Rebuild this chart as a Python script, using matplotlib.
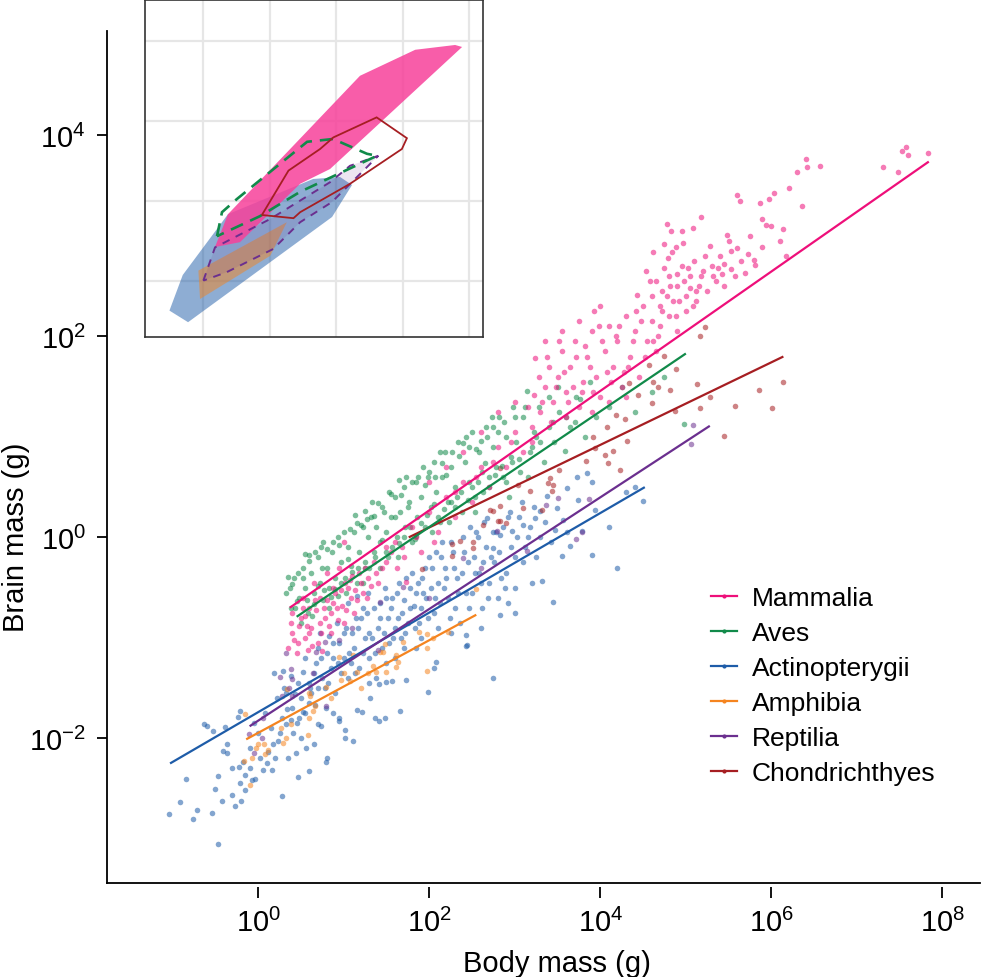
import numpy as np
import matplotlib
matplotlib.use("Agg")
import matplotlib.pyplot as plt
from matplotlib.lines import Line2D

plt.rcParams['font.family'] = ['Liberation Sans', 'DejaVu Sans']
plt.rcParams['mathtext.fontset'] = 'custom'
plt.rcParams['mathtext.rm'] = 'Liberation Sans'
plt.rcParams['mathtext.it'] = 'Liberation Sans:italic'

# ---- data (log10 grams) ----
groups = ['Mammalia', 'Aves', 'Actinopterygii', 'Amphibia', 'Reptilia', 'Chondrichthyes']
colors = ['#ee0f7a', '#118a4a', '#1e5ca8', '#f5841f', '#6b2f8f', '#a61e22']

mam_pts = [
    (7.57, 3.89), (7.53, 3.85), (7.6, 3.81), (7.83, 3.83), (7.31, 3.69), (7.48, 3.64), (6.41, 3.77),
    (6.42, 3.69), (6.57, 3.70), (6.30, 3.64), (6.36, 3.30), (6.2, 3.48), (6.03, 3.43), (5.97, 3.37),
    (5.87, 3.33), (5.6, 3.41), (5.63, 3.35), (5.89, 3.17), (5.94, 3.11), (6.13, 3.07), (6.17, 2.80),
    (5.89, 2.89), (5.48, 3.01), (5.18, 3.19), (5.08, 3.08), (4.95, 3.05), (4.83, 3.05), (4.78, 3.12),
    (4.97, 2.93), (4.88, 2.89), (4.74, 2.92), (4.62, 2.84), (4.84, 2.84), (4.79, 2.78), (5.53, 2.85),
    (5.6, 2.88), (5.73, 2.82), (5.8, 2.76), (5.81, 2.71), (5.69, 2.63), (5.53, 2.67), (4.53, 2.65),
    (4.43, 2.41), (3.93, 2.25), (3.24, 1.79),
    (4.65, 2.55), (4.72, 2.45), (4.8, 2.6), (4.9, 2.5), (4.95, 2.7), (5.0, 2.4), (5.05, 2.6), (5.1, 2.75),
    (5.15, 2.5), (5.2, 2.65), (5.25, 2.45), (5.3, 2.7), (5.35, 2.55), (5.4, 2.8), (5.45, 2.5), (4.7, 2.3),
    (4.85, 2.35), (5.0, 2.25), (5.12, 2.35), (4.6, 2.4), (4.9, 2.62), (5.22, 2.8), (5.38, 2.68),
    (4.75, 2.68), (5.05, 2.48),
    (3.3, 1.25), (3.35, 1.5), (3.4, 1.7), (3.45, 1.35), (3.5, 1.6), (3.55, 1.85), (3.6, 1.45), (3.65, 1.7),
    (3.7, 1.95), (3.75, 1.3), (3.8, 1.55), (3.85, 1.8), (3.9, 2.05), (3.95, 1.6), (4.0, 1.4), (4.05, 1.85),
    (4.1, 2.1), (4.15, 1.7), (4.2, 1.95), (4.25, 1.5), (4.3, 2.2), (4.35, 1.8), (4.4, 2.05), (4.45, 1.6),
    (4.5, 2.3), (4.55, 1.95), (4.6, 2.15), (4.65, 1.85), (4.7, 2.1), (4.8, 2.2), (4.9, 2.05), (3.2, 1.1),
    (3.6, 1.2), (3.9, 1.25), (4.1, 1.35), (4.3, 1.4), (3.35, 1.95), (3.55, 2.05), (3.75, 2.15), (4.0, 2.3),
    (1.6, -0.05), (1.8, 0.1), (2.0, 0.25), (2.2, 0.4), (2.4, 0.55), (2.6, 0.7), (2.8, 0.9), (3.0, 1.05),
    (1.7, -0.2), (1.9, -0.15), (2.1, 0.05), (2.3, 0.2), (2.5, 0.35), (2.7, 0.5), (2.9, 0.7), (3.1, 0.85),
    (2.6, 1.05), (2.8, 1.25), (3.0, 1.35), (2.4, 0.85), (2.2, 0.7), (2.0, 0.55), (1.5, -0.25), (3.2, 0.95),
    (0.35, -1.1), (0.4, -0.95), (0.45, -1.15), (0.5, -0.8), (0.55, -1.0), (0.6, -0.7), (0.62, -0.9),
    (0.7, -1.05), (0.72, -0.6), (0.78, -0.8), (0.85, -0.95), (0.88, -0.5), (0.92, -0.7), (1.0, -0.85),
    (1.02, -0.45), (1.08, -0.6), (1.12, -0.75), (1.18, -0.35), (1.22, -0.55), (1.28, -0.4), (1.35, -0.25),
    (1.4, -0.45), (1.45, -0.3), (0.52, -0.6), (0.65, -0.45), (0.8, -0.35), (0.95, -0.3), (0.4, -0.75),
    (0.58, -1.12), (0.75, -1.13), (1.0, -0.05), (1.73, -0.44),
    (0.42, -1.02), (0.48, -0.88), (0.55, -0.78), (0.6, -0.95), (0.68, -0.72), (0.72, -0.85), (0.8, -0.62),
    (0.85, -0.75), (0.9, -0.55), (0.98, -0.68), (1.05, -0.5), (1.1, -0.38), (1.15, -0.62), (1.25, -0.3),
    (1.32, -0.48), (1.5, -0.1), (1.62, -0.3), (1.85, 0.0), (2.05, -0.05), (2.3, 0.45), (2.55, 0.6),
    (2.75, 0.75), (2.95, 0.95), (3.15, 1.3), (3.28, 1.6), (3.42, 1.15), (3.58, 1.65), (3.68, 1.5),
    (3.82, 1.9), (3.92, 1.45), (4.02, 1.95), (4.12, 1.55), (4.22, 2.1), (4.32, 1.7), (4.42, 2.25),
    (4.52, 1.8), (4.58, 2.55), (4.68, 2.0), (4.78, 2.4), (4.88, 2.2), (4.98, 2.55), (5.08, 2.3),
    (5.18, 2.6), (5.28, 2.9), (5.42, 2.62), (5.5, 2.95), (5.65, 2.75), (5.75, 3.0), (6.0, 3.1), (6.1, 2.95),
    (0.38, -0.85), (0.47, -1.05), (0.53, -0.7), (0.57, -0.88), (0.63, -1.08), (0.67, -0.62), (0.73, -0.95),
    (0.77, -0.7), (0.83, -0.88), (0.87, -0.65), (0.93, -0.82), (0.97, -0.52), (1.03, -0.72), (1.07, -0.42),
    (1.13, -0.52), (1.2, -0.45), (1.27, -0.6), (1.38, -0.35), (1.55, -0.15), (1.68, -0.1), (3.22, 1.42),
    (3.32, 1.35), (3.38, 1.8), (3.48, 1.5), (3.52, 1.95), (3.62, 1.35), (3.72, 1.8), (3.78, 1.45),
    (3.88, 1.7), (3.98, 2.1), (4.08, 1.65), (4.18, 2.0), (4.28, 1.65), (4.38, 1.95), (4.48, 2.15),
    (4.62, 1.95), (4.72, 2.25), (4.82, 2.5), (4.92, 2.35), (5.02, 2.68), (5.12, 2.45), (5.32, 2.6),
    (5.45, 2.72), (5.58, 2.6),
]

aves_pts = [
    (0.32, -0.55), (0.38, -0.7), (0.42, -0.4), (0.48, -0.6), (0.52, -0.3), (0.55, -0.5), (0.58, -0.75),
    (0.62, -0.35), (0.65, -0.55), (0.7, -0.2), (0.72, -0.45), (0.76, -0.62), (0.8, -0.3), (0.83, -0.5),
    (0.86, -0.15), (0.9, -0.4), (0.93, -0.58), (0.97, -0.25), (0.59, -0.18), (0.76, -0.05),
    (1.02, -0.4), (1.05, -0.1), (1.08, -0.28), (1.12, 0.05), (1.15, -0.45), (1.18, -0.15), (1.22, 0.1),
    (1.25, -0.3), (1.28, 0.0), (1.32, 0.2), (1.35, -0.15), (1.38, 0.1), (1.42, -0.05), (1.45, 0.3),
    (1.5, 0.05), (1.52, -0.2), (1.55, 0.2), (1.6, 0.4), (1.62, 0.0), (1.66, 0.25), (1.7, 0.5), (1.72, 0.1),
    (1.76, 0.35), (1.8, -0.05), (1.84, 0.55), (1.86, 0.2), (1.9, 0.4), (1.95, 0.1), (1.98, 0.6),
    (1.65, 0.57), (1.25, 0.26),
    (2.02, 0.3), (2.05, 0.75), (2.08, 0.45), (2.12, 0.15), (2.15, 0.6), (2.18, 0.85), (2.22, 0.35),
    (2.26, 0.7), (2.3, 0.5), (2.34, 0.95), (2.38, 0.25), (2.42, 0.75), (2.46, 0.55), (2.5, 1.05),
    (2.54, 0.4), (2.58, 0.85), (2.62, 0.65), (2.66, 1.1), (2.7, 0.5), (2.74, 0.9), (2.78, 0.7), (2.82, 1.2),
    (2.86, 0.6), (2.9, 1.0), (2.95, 0.8), (2.98, 1.3),
    (3.02, 0.95), (3.06, 0.65), (3.1, 1.2), (3.14, 1.46), (3.18, 0.85), (3.22, 1.05), (3.28, 1.3),
    (3.34, 0.75), (3.4, 1.1), (3.46, 0.95), (3.52, 1.25), (3.59, 0.86), (3.65, 1.1), (3.72, 1.4),
    (3.76, 1.38), (3.82, 1.0), (3.88, 1.55), (3.95, 1.2),
    (4.1, 1.3), (4.25, 1.5), (4.4, 1.25), (4.6, 1.45), (4.98, 1.13), (4.75, 1.6),
    (0.35, -0.39), (0.45, -0.63), (0.55, -0.17), (0.65, -0.66), (0.75, -0.30), (0.85, -0.59), (0.95, -0.08),
    (1.05, -0.22), (1.15, 0.14), (1.25, -0.25), (1.35, 0.21), (1.45, -0.03), (1.55, 0.43), (1.65, -0.06),
    (1.75, 0.30), (1.85, 0.01), (1.95, 0.52), (2.05, 0.33), (2.15, 0.74), (2.25, 0.35), (2.35, 0.81),
    (2.45, 0.37), (2.55, 0.88), (2.65, 0.74), (2.75, 1.10), (2.85, 0.71), (3.05, 0.78), (3.25, 1.0),
    (3.45, 1.15), (0.4, -0.46), (0.5, -0.85), (0.6, -0.24), (0.7, -0.48), (0.8, -0.12), (0.9, -0.51),
    (1.0, 0.05), (1.1, -0.34), (1.2, 0.12), (1.3, -0.3), (1.4, 0.34), (1.5, -0.15), (1.6, 0.2), (1.7, 0.0),
    (1.8, 0.55), (1.9, 0.14), (2.0, 0.65), (2.1, 0.2), (2.2, 0.62), (2.3, 0.3), (2.4, 0.94), (2.5, 0.5),
    (2.6, 0.96), (2.7, 0.6), (2.8, 1.05), (2.9, 0.55), (3.0, 1.2), (3.2, 0.9), (3.4, 1.4), (3.6, 1.2),
    (0.37, -0.5), (0.47, -0.35), (0.57, -0.62), (0.67, -0.15), (0.77, -0.52), (0.87, -0.05), (0.97, -0.45),
    (1.07, 0.08), (1.17, -0.3), (1.27, 0.18), (1.37, -0.2), (1.47, 0.25), (1.57, -0.1), (1.67, 0.42),
    (1.77, 0.1), (1.87, 0.6), (1.97, 0.22), (2.07, 0.6), (2.17, 0.28), (2.27, 0.85), (2.37, 0.45),
    (2.47, 0.9), (2.57, 0.55), (2.67, 1.0), (2.77, 0.62), (2.87, 1.15), (2.97, 0.75), (3.12, 1.3),
    (3.3, 0.95), (3.5, 1.5), (3.7, 1.15),
    (0.43, -0.7), (0.53, -0.4), (0.63, -0.78), (0.73, -0.1), (0.83, -0.7), (0.93, 0.0), (1.03, -0.55),
    (1.13, 0.22), (1.23, -0.45), (1.33, 0.35), (1.43, -0.3), (1.53, 0.45), (1.63, -0.2), (1.73, 0.6),
    (1.83, -0.02), (1.93, 0.7), (2.03, 0.05), (2.13, 0.85), (2.23, 0.15), (2.33, 0.4), (2.43, 1.0),
    (2.53, 0.25), (2.63, 0.45), (2.73, 1.2), (2.93, 0.4), (3.15, 0.6),
]

act_pts = [
    (-1.04, -2.75), (-0.91, -2.63), (-0.84, -2.40), (-0.76, -2.80), (-0.72, -2.71), (-0.54, -2.74),
    (-0.47, -3.05), (-0.51, -2.5), (-0.47, -2.37), (-0.42, -2.62), (-0.3, -2.56), (-0.27, -2.67),
    (-0.2, -2.62), (-0.21, -2.44), (-0.15, -2.51), (-0.15, -2.36), (-0.22, -2.29), (-0.18, -2.24),
    (-0.36, -2.06), (-0.41, -2.13), (-0.36, -2.15), (-0.63, -1.86), (-0.6, -1.88), (-0.53, -1.93),
    (-0.39, -1.89), (-0.24, -1.79), (-0.21, -1.73), (-0.07, -2.41), (-0.04, -2.4), (0.06, -2.32),
    (0.16, -2.32), (0.28, -2.57), (0.47, -2.38), (0.59, -2.33), (0.44, -2.15), (0.56, -2.1), (0.65, -2.06),
    (0.79, -2.24), (0.81, -2.2), (0.74, -1.88), (0.7, -1.86), (1.11, -2.03), (1.01, -2.0), (1.02, -1.92),
    (0.95, -1.8), (1.15, -1.72), (1.31, -1.6), (1.37, -1.8), (1.41, -1.83), (1.48, -1.8), (1.66, -1.73),
    (1.99, -1.54), (2.06, -1.3), (2.08, -1.24), (2.43, -1.08), (2.43, -0.97), (1.73, -1.42), (1.57, -1.43),
    (1.49, -1.44), (1.41, -1.46), (1.21, -1.74), (0.94, -1.83), (0.88, -1.75), (0.79, -1.7), (0.67, -1.67),
    (0.6, -1.65), (0.52, -1.74), (0.48, -1.8), (0.38, -1.82), (0.32, -1.86), (0.23, -2.03), (0.17, -2.06),
    (0.12, -2.14), (0.41, -1.95), (0.18, -1.35), (0.29, -1.33), (0.38, -1.38), (0.52, -1.34), (0.61, -1.5),
    (0.43, -1.56), (0.34, -1.71),
    (3.85, 0.64), (3.73, 0.6), (3.9, 0.55), (3.61, 0.49), (3.74, 0.37), (3.29, 0.26), (3.24, 0.19),
    (3.1, 0.12), (2.97, 0.06), (2.83, 0.02), (2.68, 0.19), (2.75, -0.11), (3.56, 0.17), (3.49, 0.29),
    (3.38, 0.41), (3.94, 0.27), (3.61, 0.05), (3.47, 0.07), (3.79, 0.06), (3.65, -0.09), (3.55, -0.19),
    (3.9, -0.18), (4.5, 0.36), (3.45, -0.64), (3.32, -0.43), (2.83, -0.77), (2.92, -0.65), (2.44, -1.07),
    (2.75, -1.4), (4.4, 0.5), (4.3, 0.45), (4.2, -0.3), (4.1, 0.1),
    (0.6, -1.45), (0.68, -1.25), (0.75, -1.4), (0.8, -1.15), (0.85, -1.3), (0.9, -1.55), (0.95, -1.05),
    (1.0, -1.2), (1.05, -1.4), (1.1, -0.95), (1.12, -1.1), (1.18, -1.3), (1.2, -0.8), (1.25, -1.0),
    (1.3, -1.2), (1.35, -0.7), (1.4, -0.9), (1.45, -1.1), (1.5, -0.6), (1.52, -0.8), (1.58, -1.0),
    (1.62, -0.55), (1.68, -0.75), (1.72, -0.95), (1.78, -0.5), (1.82, -0.68), (1.88, -0.85), (1.05, -0.65),
    (1.15, -0.58), (1.28, -0.55), (0.92, -0.85), (0.72, -0.95), (1.38, -1.4), (1.6, -1.2), (1.85, -1.1),
    (1.92, -0.4), (1.96, -0.6), (2.0, -0.2), (2.05, -0.75), (2.1, -0.45), (2.15, -0.05), (2.18, -0.3),
    (2.22, -0.6), (2.28, -0.15), (2.32, -0.4), (2.36, -0.85), (2.4, 0.0), (2.45, -0.25), (2.5, -0.55),
    (2.55, 0.05), (2.58, -0.35), (2.62, -0.7), (2.66, -0.1), (2.7, -0.45), (2.76, -0.25), (2.8, -0.6),
    (2.86, 0.1), (2.9, -0.35), (2.95, -0.1), (3.0, -0.5), (3.05, 0.2), (3.1, -0.25), (3.15, 0.0),
    (3.2, -0.45), (2.25, -0.95),
    (0.55, -1.2), (0.62, -1.55), (0.7, -1.1), (0.78, -1.5), (0.83, -0.98), (0.88, -1.2), (0.97, -1.35),
    (1.03, -0.9), (1.08, -1.25), (1.14, -0.8), (1.22, -1.15), (1.27, -0.75), (1.33, -1.0), (1.42, -0.65),
    (1.47, -0.95), (1.55, -0.7), (1.6, -0.9), (1.65, -0.45), (1.7, -0.62), (1.75, -0.85), (1.8, -0.35),
    (1.85, -0.55), (1.9, -0.7), (1.95, -0.3), (2.02, -0.5), (2.08, -0.15), (2.12, -0.65), (2.2, -0.4),
    (2.26, -0.05), (2.3, -0.7), (2.38, -0.35), (2.43, -0.55), (2.48, 0.1), (2.52, -0.2), (2.6, -0.45),
    (2.64, 0.15), (2.72, -0.2), (2.78, 0.05), (2.84, -0.4), (2.92, 0.2), (3.0, -0.2), (3.08, 0.35),
    (3.18, 0.1), (3.25, -0.2), (3.35, 0.15), (3.42, -0.05), (0.0, -1.95), (0.08, -1.75), (0.15, -1.9),
    (0.22, -1.6), (0.28, -1.8), (0.33, -1.55), (0.4, -1.7), (0.46, -1.45), (0.5, -1.6), (-0.1, -2.1),
    (-0.05, -1.85), (0.1, -2.25), (0.2, -2.2), (0.35, -2.2), (0.5, -2.0), (1.3, -1.45), (1.5, -1.25),
    (1.7, -1.1), (1.9, -1.0), (2.1, -0.9), (2.6, -0.9), (3.0, -0.75),
    (0.65, -1.35), (0.73, -1.2), (0.82, -1.45), (0.87, -1.05), (0.93, -1.25), (1.0, -0.95), (1.06, -1.15),
    (1.13, -1.35), (1.17, -0.9), (1.23, -0.7), (1.3, -0.95), (1.37, -1.15), (1.43, -0.8), (1.48, -0.5),
    (1.53, -1.05), (1.57, -0.6), (1.63, -0.8), (1.67, -1.0), (1.73, -0.4), (1.77, -0.7), (1.83, -0.9),
    (1.87, -0.45), (1.93, -0.55), (1.98, -0.8), (2.03, -0.3), (2.07, -0.6), (2.14, -0.2), (2.17, -0.5),
    (2.24, -0.8), (2.29, -0.3), (2.34, -0.55), (2.41, -0.15), (2.46, -0.7), (2.53, -0.35), (2.57, 0.0),
    (2.63, -0.25), (2.69, -0.6), (2.74, 0.05), (2.82, -0.15), (2.88, -0.5), (2.94, 0.25), (3.03, 0.0),
    (3.12, -0.1), (3.22, 0.3), (3.3, 0.0), (0.25, -1.95), (0.3, -1.5), (0.45, -1.85), (0.55, -1.75),
    (0.7, -1.5), (-0.3, -2.3), (-0.1, -2.3), (0.02, -2.2),
]

amph_pts = [
    (-0.15, -1.76), (0.0, -2.06), (0.07, -2.06), (-0.02, -2.1), (0.11, -2.12), (0.08, -2.16), (-0.07, -2.2),
    (-0.16, -2.23), (-0.09, -2.46), (0.29, -2.05), (0.32, -2.0), (0.27, -1.9), (0.38, -1.86), (0.58, -1.97),
    (0.6, -1.8), (0.64, -1.73), (0.67, -1.68), (0.34, -1.51), (0.61, -1.58), (0.79, -1.49), (0.97, -1.42),
    (1.07, -1.43), (1.0, -1.35), (1.16, -1.34), (1.28, -1.35), (1.34, -1.28), (1.38, -1.34), (1.5, -1.34),
    (1.61, -1.29), (1.64, -1.24), (0.95, -1.19), (1.11, -1.17), (1.48, -1.06), (1.42, -1.14), (1.88, -0.94),
    (1.97, -0.96), (1.97, -1.33), (1.69, -1.04), (1.97, -1.1), (2.04, -1.0), (2.22, -0.94), (2.55, -0.51),
    (1.46, -1.14), (1.61, -1.17), (0.6, -1.55), (0.85, -1.6), (1.2, -1.5),
]

rept_pts = [
    (0.33, -1.15), (0.38, -1.31), (0.26, -1.39), (0.68, -1.14), (0.78, -1.04), (0.95, -1.02), (0.64, -1.35),
    (0.4, -1.58), (0.28, -1.58), (0.04, -2.0), (-0.11, -1.96), (0.06, -1.8), (0.79, -1.68), (1.4, -1.12),
    (0.4, -1.41), (0.36, -1.5), (1.42, -0.64), (1.69, -0.49), (2.4, -0.21), (3.37, 0.32), (2.79, 0.06),
    (5.08, 1.12), (5.06, 0.93), (3.87, 0.38), (3.51, 0.39), (3.78, 0.05), (3.72, -0.02), (3.14, -0.14),
    (1.1, -0.9), (2.0, -0.6), (2.6, -0.3), (-0.05, -2.15),
]

chon_pts = [
    (5.17, 2.0), (5.22, 2.09), (5.58, 1.31), (5.44, 1.01), (5.86, 1.47), (5.17, 1.29), (5.13, 1.53),
    (4.81, 1.47), (4.61, 1.55), (4.6, 1.34), (4.29, 1.18), (4.18, 1.22), (4.08, 1.1), (4.31, 0.96),
    (4.15, 0.86), (4.06, 0.82), (3.94, 0.89), (4.23, 0.67), (4.09, 0.74), (3.83, 0.76), (3.52, 0.67),
    (3.39, 0.54), (3.43, 0.46), (3.18, 0.46), (3.04, 0.52), (2.83, 0.16), (2.75, 0.26), (3.1, 0.29),
    (3.32, 0.27), (4.57, 1.72), (4.74, 1.81), (4.88, 1.68), (4.67, 1.5), (6.14, 1.55), (6.01, 1.29),
    (5.28, 1.4), (4.87, 1.26), (4.44, 1.42), (4.33, 1.54), (3.92, 1.0), (2.27, -0.07), (2.36, -0.04),
    (2.51, -0.05), (2.63, 0.12), (2.71, 0.27), (2.8, 0.16), (2.83, 0.69), (2.83, 0.31), (2.9, 0.14),
    (3.41, 0.59), (3.45, 0.52), (1.92, -0.31), (2.27, -0.19), (2.51, -0.11),
]

# fitted lines: (x start, x end) and (y start, y end) in log10
fit_x = [(0.37, 7.84), (0.45, 5.0), (-1.03, 4.52), (-0.14, 2.55), (-0.1, 5.28), (1.76, 6.14)]
fit_y = [(-0.70, 3.74), (-0.79, 1.83), (-2.25, 0.50), (-2.01, -0.77), (-1.88, 1.11), (0.0, 1.80)]

# inset outlines (log10 body, log10 brain)
hull_mam = [(0.36, -1.15), (0.75, -0.33), (4.72, 3.13), (6.38, 3.78), (7.58, 3.9), (7.79, 3.85),
            (3.82, 0.8), (2.92, 0.43), (1.11, -1.03)]
hull_act = [(-1.01, -2.74), (-0.61, -1.85), (0.75, -0.33), (3.31, 0.55), (4.12, 0.6), (4.48, 0.4),
            (3.88, -0.4), (-0.45, -3.03)]
hull_amph = [(-0.14, -1.74), (2.52, -0.53), (2.02, -1.37), (-0.09, -2.45)]
hull_rept = [(0.01, -1.99), (0.36, -1.16), (2.02, -0.45), (3.82, 0.47), (4.42, 0.88), (5.27, 1.13),
             (3.87, -0.03), (2.92, -0.53), (2.11, -1.2), (0.71, -1.78)]
hull_aves = [(0.42, -0.88), (0.57, -0.28), (1.02, 0.05), (2.02, 0.73), (3.13, 1.48), (3.91, 1.55),
             (4.93, 1.18), (5.23, 1.13), (2.92, 0.23), (1.71, -0.38)]
hull_chon = [(1.77, -0.35), (2.57, 0.76), (3.52, 1.3), (3.92, 1.59), (5.22, 2.09), (6.13, 1.57),
             (5.98, 1.3), (4.42, 0.43), (2.92, -0.28), (2.72, -0.43)]

point_sets = [mam_pts, aves_pts, act_pts, amph_pts, rept_pts, chon_pts]

# ---- figure ----
fig = plt.figure(figsize=(9.82, 9.78), dpi=100)
ax = fig.add_axes([0.1087, 0.0961, 0.8894, 0.8712])
ax.set_xscale('log')
ax.set_yscale('log')
ax.set_xlim(10 ** -1.77, 10 ** 8.44)
ax.set_ylim(10 ** -3.44, 10 ** 5.04)

for i in [2, 3, 4, 5, 1, 0]:
    pts = np.array(point_sets[i])
    ax.scatter(10 ** pts[:, 0], 10 ** pts[:, 1], s=16, color=colors[i], alpha=0.55,
               linewidths=0, zorder=2)

for i in [2, 3, 4, 5, 1, 0]:
    ax.plot(10 ** np.array(fit_x[i]), 10 ** np.array(fit_y[i]), color=colors[i], lw=1.6,
            solid_capstyle='butt', zorder=3)

ax.spines['right'].set_visible(False)
ax.spines['top'].set_visible(False)
ax.spines['left'].set_linewidth(1.3)
ax.spines['bottom'].set_position(('outward', 3))
ax.spines['bottom'].set_color('none')
ax.plot([0, 1], [0, 0], transform=ax.transAxes, color='black', lw=1.3, clip_on=False,
        solid_capstyle='projecting', zorder=5)

ax.set_xticks([1e0, 1e2, 1e4, 1e6, 1e8])
ax.set_xticklabels([r'$10^{0}$', r'$10^{2}$', r'$10^{4}$', r'$10^{6}$', r'$10^{8}$'])
ax.set_yticks([1e-2, 1e0, 1e2, 1e4])
ax.set_yticklabels([r'$10^{-2}$', r'$10^{0}$', r'$10^{2}$', r'$10^{4}$'])
ax.minorticks_off()
ax.tick_params(axis='x', length=8, width=1.3, labelsize=21, pad=7)
ax.tick_params(axis='y', length=7, width=1.3, labelsize=21, pad=8)

ax.set_xlabel('Body mass (g)', fontsize=21)
ax.set_ylabel('Brain mass (g)', fontsize=21)
ax.xaxis.set_label_coords(0.5156, -0.078)
ax.yaxis.set_label_coords(-0.088, 0.407)

handles = [Line2D([], [], color=c, lw=1.6, marker='o', markersize=2) for c in colors]
fig.legend(handles, groups, loc='upper left', bbox_to_anchor=(0.724, 0.400), frameon=False,
           fontsize=19, handlelength=1.0, handletextpad=0.55, labelspacing=0.42,
           borderpad=0, borderaxespad=0)

# ---- inset ----
ins = fig.add_axes([0.1477, 0.6544, 0.3442, 0.3446])
ins.set_xscale('log')
ins.set_yscale('log')
ins.set_xlim(10 ** -1.744, 10 ** 8.42)
ins.set_ylim(10 ** -3.4, 10 ** 5.025)
ins.set_xticks([1e0, 1e2, 1e4, 1e6, 1e8])
ins.set_yticks([1e-2, 1e0, 1e2, 1e4])
ins.minorticks_off()
ins.tick_params(length=0, labelbottom=False, labelleft=False)
ins.grid(True, color='#e6e6e6', lw=1.6)
ins.set_axisbelow(True)
for sp in ins.spines.values():
    sp.set_linewidth(1.2)
    sp.set_color('#333333')


def hull(h):
    h = np.array(h)
    return 10 ** h[:, 0], 10 ** h[:, 1]


hx, hy = hull(hull_act)
ins.fill(hx, hy, color=colors[2], alpha=0.5, lw=0, zorder=2)
hx, hy = hull(hull_amph)
ins.fill(hx, hy, color=colors[3], alpha=0.5, lw=0, zorder=3)
hx, hy = hull(hull_rept)
ins.fill(hx, hy, color=colors[4], alpha=0.12, lw=0, zorder=3)
hx, hy = hull(hull_mam)
ins.fill(hx, hy, color='#f7409a', alpha=0.85, lw=0, zorder=4)
hx, hy = hull(hull_rept)
ins.fill(hx, hy, facecolor='none', edgecolor=colors[4], lw=1.4, linestyle=(0, (4, 3.5)), zorder=5)
hx, hy = hull(hull_aves)
ins.fill(hx, hy, facecolor='none', edgecolor=colors[1], lw=1.9, linestyle=(0, (5, 3)), zorder=5)
hx, hy = hull(hull_chon)
ins.fill(hx, hy, facecolor='none', edgecolor=colors[5], lw=1.3, zorder=6)

fig.savefig('out.png', dpi=100)
